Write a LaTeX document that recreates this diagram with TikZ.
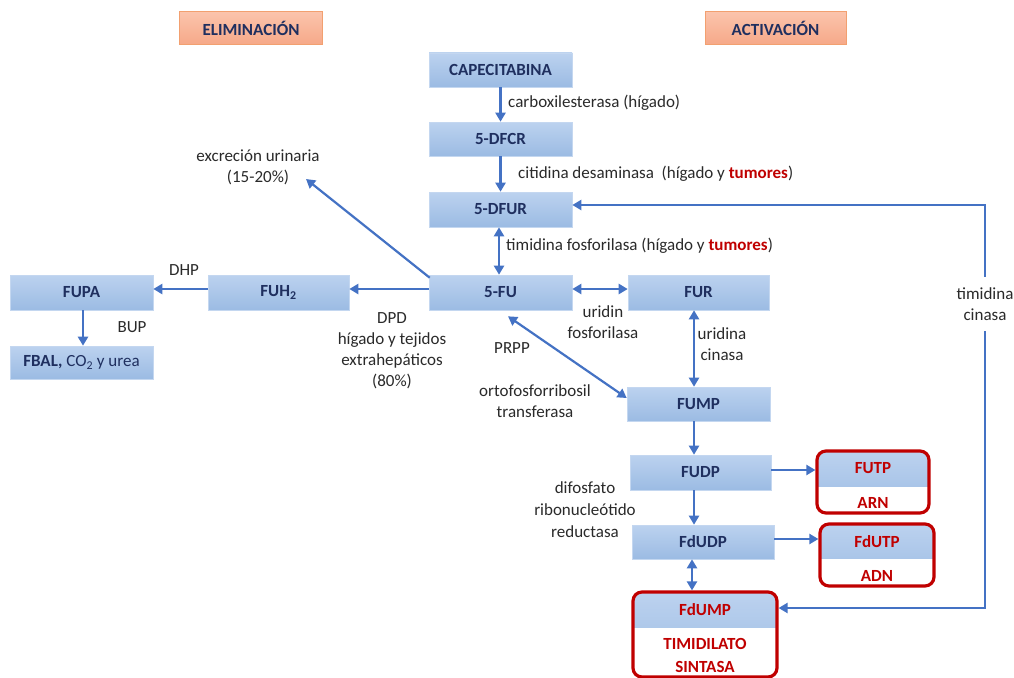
\documentclass[tikz,border=0pt]{standalone}
\usepackage{fontspec}
\setmainfont{Carlito}
\usetikzlibrary{arrows.meta,calc}
\definecolor{navy}{HTML}{1F2F5F}
\definecolor{myred}{HTML}{C00000}
\definecolor{arrc}{HTML}{4472C4}
\definecolor{btop}{HTML}{BCD2EF}
\definecolor{bbot}{HTML}{9BBBE3}
\definecolor{bedge}{HTML}{C4D7F0}
\definecolor{otop}{HTML}{FBC4AC}
\definecolor{obot}{HTML}{F6A888}
\definecolor{oedge}{HTML}{F2A070}
\definecolor{txt}{HTML}{2A2A2A}
\begin{document}
\begin{tikzpicture}[x=1pt,y=-1pt,
 tfont/.style={font=\fontsize{17}{20}\selectfont\bfseries},
 bluebox/.style={rectangle,inner sep=0pt,top color=btop,bottom color=bbot,draw=bedge,line width=0.6pt,text=navy,tfont},
 headbox/.style={rectangle,inner sep=0pt,top color=otop,bottom color=obot,draw=oedge,line width=1pt,text=navy,tfont,minimum width=143pt,minimum height=33pt},
 redbox/.style={rectangle,rounded corners=9pt,draw=myred,line width=3.2pt,fill=white,inner sep=0pt,
   path picture={\fill[sharp corners,top color=btop,bottom color=bbot] (path picture bounding box.north west) rectangle ([yshift=-#1]path picture bounding box.north east);}},
 redt/.style={text=myred,tfont,inner sep=0pt,align=center},
 lbl/.style={text=txt,align=center,inner sep=0pt,font=\fontsize{17}{21}\selectfont},
 conn/.style={draw=arrc,line width=2.2pt,-{Triangle[length=9pt,width=10pt]}},
 dconn/.style={draw=arrc,line width=2.2pt,{Triangle[length=9pt,width=10pt]}-{Triangle[length=9pt,width=10pt]}},
]
\useasboundingbox (0,0) rectangle (1014,677);
\fill[white] (0,0) rectangle (1014,677);

% header boxes
\node[headbox] (elim) at (251,28.5) {ELIMINACIÓN};
\node[headbox,minimum width=141pt] (act) at (775.5,28.5) {ACTIVACIÓN};

% blue boxes
\node[bluebox,minimum width=143pt,minimum height=34pt] (cap) at (500.5,70) {CAPECITABINA};
\node[bluebox,minimum width=143pt,minimum height=34pt] (dfcr) at (500.5,139) {5-DFCR};
\node[bluebox,minimum width=143pt,minimum height=35pt] (dfur) at (500.5,209.5) {5-DFUR};
\node[bluebox,minimum width=143pt,minimum height=35pt] (fu) at (500.5,292.5) {5-FU};
\node[bluebox,minimum width=141pt,minimum height=35pt] (fur) at (698.5,292.5) {FUR};
\node[bluebox,minimum width=141pt,minimum height=35pt] (fuh2) at (278.5,292.5) {FUH\textsubscript{2}};
\node[bluebox,minimum width=143pt,minimum height=35pt] (fupa) at (81.5,292.5) {FUPA};
\node[bluebox,minimum width=143pt,minimum height=33pt] (fbal) at (81.5,362.5) {FBAL, {\mdseries CO\textsubscript{2} y urea}};
\node[bluebox,minimum width=143pt,minimum height=34pt] (fump) at (698.5,404) {FUMP};
\node[bluebox,minimum width=141pt,minimum height=35pt] (fudp) at (700.5,472.5) {FUDP};
\node[bluebox,minimum width=142pt,minimum height=34pt] (fdudp) at (703,542) {FdUDP};

% red boxes
\node[redbox=35pt,minimum width=112pt,minimum height=62pt] (futpbox) at (873,482) {};
\node[redt] (futp) at (873,468) {FUTP};
\node[redt] (arn) at (873,503) {ARN};
\node[redbox=34pt,minimum width=114pt,minimum height=62pt] (fdutpbox) at (877,555) {};
\node[redt] (fdutp) at (877,542) {FdUTP};
\node[redt] (adn) at (877,576) {ADN};
\node[redbox=35pt,minimum width=144pt,minimum height=85pt] (fdumpbox) at (705,634.5) {};
\node[redt] (fdump) at (705,610) {FdUMP};
\node[redt,font=\fontsize{17}{23}\selectfont\bfseries] (ts) at (705,655.5) {TIMIDILATO\\SINTASA};

% labels
\node[lbl,anchor=west] (l1) at (508,103) {carboxilesterasa (hígado)};
\node[lbl,anchor=west] (l2) at (518,174) {citidina desaminasa\ \ (hígado y {\color{myred}\bfseries tumores})};
\node[lbl,anchor=west] (l3) at (506,246) {timidina fosforilasa (hígado y {\color{myred}\bfseries tumores})};
\node[lbl] (exc) at (258,167) {excreción urinaria\\(15-20\%)};
\node[lbl] (dhp) at (184,270) {DHP};
\node[lbl] (bup) at (132,327) {BUP};
\node[lbl] (dpd) at (392,351) {DPD\\hígado y tejidos\\extrahepáticos\\(80\%)};
\node[lbl] (prpp) at (512,348) {PRPP};
\node[lbl] (orto) at (535,401) {ortofosforribosil\\transferasa};
\node[lbl] (urf) at (603,322.5) {uridin\\fosforilasa};
\node[lbl] (urc) at (722,344) {uridina\\cinasa};
\node[lbl,font=\fontsize{17}{22}\selectfont] (dif) at (585,510) {difosfato\\ribonucleótido\\reductasa};
\node[lbl,minimum height=54pt] (tc) at (985,304) {timidina\\cinasa};

% connectors
\coordinate (excend) at (306,179);
\draw[conn] (cap) -- (dfcr);
\draw[conn] (dfcr) -- (dfur);
\draw[dconn] ([xshift=-1.5pt]dfur.south) -- ([xshift=-1.5pt]fu.north);
\draw[conn] ([shift={(1pt,-3pt)}]fu.north west) -- (excend);
\draw[conn] ([yshift=3.5pt]fu.west) -- ([yshift=3.5pt]fuh2.east);
\draw[conn] ([yshift=3.5pt]fuh2.west) -- ([yshift=3.5pt]fupa.east);
\draw[conn] ([xshift=1.5pt]fupa.south) -- ([xshift=1.5pt]fbal.north);
\draw[dconn] ([yshift=3.5pt]fu.east) -- ([yshift=3.5pt]fur.west);
\draw[dconn] ([xshift=-4.5pt]fur.south) -- ([xshift=-4.5pt]fump.north);
\draw[dconn] ([shift={(7.5pt,-6pt)}]fu.south) -- ([yshift=6pt]fump.west);
\draw[conn] ([xshift=-4.5pt]fump.south) -- ([xshift=-6.5pt]fudp.north);
\draw[conn] ([yshift=2.5pt]fudp.east) -- ([yshift=12pt]futpbox.west);
\draw[conn] ([xshift=-6.5pt]fudp.south) -- ([xshift=-9pt]fdudp.north);
\draw[conn] ([yshift=3pt]fdudp.east) -- ([yshift=16pt]fdutpbox.west);
\draw[dconn] ([xshift=-11pt]fdudp.south) -- ([xshift=-13pt]fdumpbox.north);
\draw[conn] (tc.north) |- ([yshift=4.5pt]dfur.east);
\draw[conn] (tc.south) |- ([yshift=26.5pt]fdumpbox.east);
\end{tikzpicture}
\end{document}
